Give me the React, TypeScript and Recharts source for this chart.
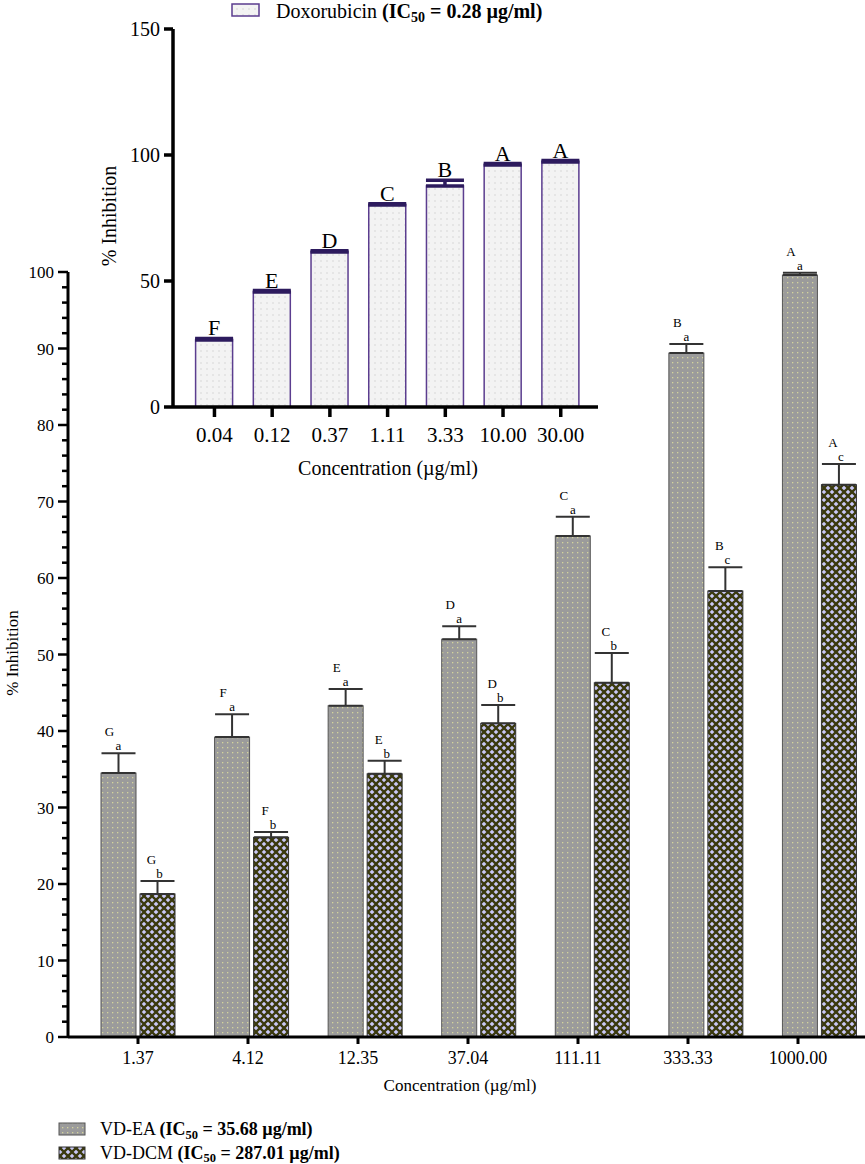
import React from 'react';
import { BarChart, Bar, XAxis, YAxis, ErrorBar } from 'recharts';

// main chart data (VD extracts)
const concentrations = ['1.37', '4.12', '12.35', '37.04', '111.11', '333.33', '1000.00'];
const eaValues = [34.5, 39.2, 43.3, 52.0, 65.5, 89.4, 99.6];
const eaErrors = [2.6, 3.0, 2.2, 1.7, 2.5, 1.2, 0.3];
const dcmValues = [18.7, 26.1, 34.4, 41.0, 46.3, 58.3, 72.2];
const dcmErrors = [1.7, 0.7, 1.7, 2.4, 3.9, 3.1, 2.7];
const eaCaps = ['G', 'F', 'E', 'D', 'C', 'B', 'A'];
const eaSubs = ['a', 'a', 'a', 'a', 'a', 'a', 'a'];
const dcmCaps = ['G', 'F', 'E', 'D', 'C', 'B', 'A'];
const dcmSubs = ['b', 'b', 'b', 'b', 'b', 'c', 'c'];
const mainTicks = Array.from({ length: 51 }, (_, i) => i * 2);

// inset data (doxorubicin)
const doxConc = ['0.04', '0.12', '0.37', '1.11', '3.33', '10.00', '30.00'];
const doxValues = [26.6, 45.6, 61.5, 80.2, 87.7, 96.0, 97.2];
const doxErrors = [0.6, 0.6, 0.5, 0.5, 2.3, 0.6, 0.6];
const doxLetters = ['F', 'E', 'D', 'C', 'B', 'A', 'A'];
const insetTicks = [0, 50, 100, 150];

const mainData = concentrations.map((c, i) => ({
  conc: c,
  ea: eaValues[i],
  eaErr: [0, eaErrors[i]],
  dcm: dcmValues[i],
  dcmErr: [0, dcmErrors[i]],
}));

const doxData = doxConc.map((c, i) => ({
  conc: c,
  dox: doxValues[i],
  doxErr: [0, doxErrors[i]],
}));

const FONT = '"Liberation Serif", serif';
const tf = { fontFamily: FONT };

const MainYTick = (props: any) => {
  const { x, y, payload } = props;
  const major = payload.value % 10 === 0;
  return (
    <g>
      <line x1={x - (major ? 10 : 6)} x2={x} y1={y} y2={y} stroke="#000" strokeWidth={2.5} />
      {major && (
        <text x={x - 14} y={y + 6} textAnchor="end" fontSize={17} style={tf} fill="#000">
          {payload.value}
        </text>
      )}
    </g>
  );
};

const MainXTick = (props: any) => {
  const { x, y, payload } = props;
  return (
    <text x={x} y={y + 20} textAnchor="middle" fontSize={18} style={tf} fill="#000">
      {payload.value}
    </text>
  );
};

const InsetYTick = (props: any) => {
  const { x, y, payload } = props;
  return (
    <g>
      <line x1={x - 9} x2={x} y1={y} y2={y} stroke="#000" strokeWidth={3.5} />
      <text x={x - 13} y={y + 7} textAnchor="end" fontSize={20} style={tf} fill="#000">
        {payload.value}
      </text>
    </g>
  );
};

const InsetXTick = (props: any) => {
  const { x, y, payload } = props;
  return (
    <text x={x} y={y + 25} textAnchor="middle" fontSize={21} style={tf} fill="#000">
      {payload.value}
    </text>
  );
};

// bar rect plus the significance letters sitting over the error cap
const makeBarShape = (
  values: number[],
  errors: number[],
  caps: string[],
  subs: string[] | null,
  capDx: number,
  subDx: number,
  big: boolean
) => (props: any) => {
  const { x, y, width, height, index, fill, stroke, strokeWidth } = props;
  const v = values[index];
  const errPx = v ? (errors[index] * height) / v : 0;
  const top = y - errPx;
  const cx = x + width / 2;
  return (
    <g>
      <rect x={x} y={y} width={width} height={height} fill={fill} stroke={stroke} strokeWidth={strokeWidth} />
      {big ? (
        <text x={cx} y={top - 3} textAnchor="middle" fontSize={22} style={tf} fill="#000">
          {caps[index]}
        </text>
      ) : (
        <g fontSize={13} fill="#000" textAnchor="middle">
          <text x={cx + capDx} y={top - 17} style={tf}>{caps[index]}</text>
          <text x={cx + subDx} y={top - 3} style={tf}>{subs ? subs[index] : ''}</text>
        </g>
      )}
    </g>
  );
};

const eaShape = makeBarShape(eaValues, eaErrors, eaCaps, eaSubs, -9, 0, false);
const dcmShape = makeBarShape(dcmValues, dcmErrors, dcmCaps, dcmSubs, -6, 2, false);
const doxShape = makeBarShape(doxValues, doxErrors, doxLetters, null, 0, 0, true);

const Patterns = () => (
  <svg width={0} height={0} style={{ position: 'absolute' }}>
    <defs>
      <pattern id="eaPat" width={5} height={5} patternUnits="userSpaceOnUse">
        <rect width={5} height={5} fill="#9b9b9b" />
        <rect x={2} y={2} width={1.3} height={1.3} fill="#d4d49c" />
      </pattern>
      <pattern id="dcmPat" width={8} height={8} patternUnits="userSpaceOnUse">
        <rect width={8} height={8} fill="#c9c8f6" />
        <line x1={0} y1={0} x2={8} y2={8} stroke="#3a390e" strokeWidth={2.3} />
        <line x1={8} y1={0} x2={0} y2={8} stroke="#3a390e" strokeWidth={2.3} />
      </pattern>
      <pattern id="doxPat" width={6} height={6} patternUnits="userSpaceOnUse">
        <rect width={6} height={6} fill="#f3f3f3" />
        <rect x={2.5} y={2.5} width={1} height={1} fill="#bcbcbc" />
      </pattern>
    </defs>
  </svg>
);

const Overlay = () => (
  <svg width={865} height={1164} style={{ position: 'absolute', left: 0, top: 0, pointerEvents: 'none' }}>
    {/* inset legend */}
    <rect x={232} y={4} width={27} height={12} fill="url(#doxPat)" stroke="#5b3d8f" strokeWidth={1.5} />
    <text x={276} y={18} fontSize={20} style={tf} fill="#000">
      Doxorubicin <tspan fontWeight="bold">(IC</tspan>
      <tspan fontWeight="bold" fontSize={14} dy={4}>50</tspan>
      <tspan fontWeight="bold" dy={-4}> = 0.28 µg/ml)</tspan>
    </text>
    {/* inset axis titles */}
    <text transform="translate(116,216) rotate(-90)" textAnchor="middle" fontSize={20} style={tf} fill="#000">
      % Inhibition
    </text>
    <text x={388} y={475} textAnchor="middle" fontSize={20} style={tf} fill="#000">
      Concentration (µg/ml)
    </text>
    {/* main axis titles */}
    <text transform="translate(18,653) rotate(-90)" textAnchor="middle" fontSize={17} style={tf} fill="#000">
      % Inhibition
    </text>
    <text x={460} y={1091} textAnchor="middle" fontSize={17} style={tf} fill="#000">
      Concentration (µg/ml)
    </text>
    {/* main legend */}
    <rect x={59} y={1123} width={26} height={12} fill="url(#eaPat)" stroke="#555" strokeWidth={1} />
    <text x={100} y={1135} fontSize={18} style={tf} fill="#000">
      VD-EA <tspan fontWeight="bold">(IC</tspan>
      <tspan fontWeight="bold" fontSize={12.5} dy={4}>50</tspan>
      <tspan fontWeight="bold" dy={-4}> = 35.68 µg/ml)</tspan>
    </text>
    <rect x={59} y={1147} width={26} height={12} fill="url(#dcmPat)" stroke="#333" strokeWidth={1} />
    <text x={100} y={1159} fontSize={18} style={tf} fill="#000">
      VD-DCM <tspan fontWeight="bold">(IC</tspan>
      <tspan fontWeight="bold" fontSize={12.5} dy={3}>50</tspan>
      <tspan fontWeight="bold" dy={-3}> = 287.01 µg/ml)</tspan>
    </text>
  </svg>
);

const App = () => {
  return (
    <div
      style={{
        position: 'absolute',
        left: 0,
        top: 0,
        width: 865,
        height: 1164,
        overflow: 'hidden',
        background: '#fff',
      }}
    >
      <Patterns />
      <div style={{ position: 'absolute', left: 0, top: 0 }}>
        <BarChart
          width={880}
          height={1164}
          data={mainData}
          margin={{ top: 272, right: 4, bottom: 0, left: 0 }}
          barGap={4}
          barSize={35}
        >
          {/* bars sit on this one; the printed labels below are spaced a bit tighter */}
          <XAxis xAxisId="bars" dataKey="conc" padding={{ left: 13, right: 0 }} height={0} hide />
          <XAxis
            xAxisId="lbl"
            dataKey="conc"
            padding={{ left: 15, right: 23 }}
            axisLine={{ stroke: '#000', strokeWidth: 3 }}
            tickLine={{ stroke: '#000', strokeWidth: 3 }}
            tickSize={7}
            tickMargin={0}
            tick={<MainXTick />}
            interval={0}
            height={127}
          />
          <YAxis
            width={68}
            domain={[0, 100]}
            ticks={mainTicks}
            interval={0}
            tickSize={0}
            tickMargin={0}
            tickLine={false}
            axisLine={{ stroke: '#000', strokeWidth: 3 }}
            tick={<MainYTick />}
          />
          <Bar xAxisId="bars" dataKey="ea" fill="url(#eaPat)" stroke="#555" strokeWidth={1} shape={eaShape} isAnimationActive={false}>
            <ErrorBar dataKey="eaErr" width={17} stroke="#333" strokeWidth={2} direction="y" />
          </Bar>
          <Bar xAxisId="bars" dataKey="dcm" fill="url(#dcmPat)" stroke="#333" strokeWidth={1} shape={dcmShape} isAnimationActive={false}>
            <ErrorBar dataKey="dcmErr" width={17} stroke="#333" strokeWidth={2} direction="y" />
          </Bar>
        </BarChart>
      </div>
      <div style={{ position: 'absolute', left: 0, top: 0 }}>
        <BarChart
          width={620}
          height={480}
          data={doxData}
          margin={{ top: 29, right: 22, bottom: 0, left: 0 }}
          barSize={37}
        >
          <XAxis
            dataKey="conc"
            padding={{ left: 12.6, right: 8.4 }}
            axisLine={{ stroke: '#000', strokeWidth: 3.5 }}
            tickLine={{ stroke: '#000', strokeWidth: 3.5 }}
            tickSize={10}
            tickMargin={0}
            tick={<InsetXTick />}
            interval={0}
            height={73}
          />
          <YAxis
            width={173}
            domain={[0, 150]}
            ticks={insetTicks}
            interval={0}
            tickSize={0}
            tickMargin={0}
            tickLine={false}
            axisLine={{ stroke: '#000', strokeWidth: 3.5 }}
            tick={<InsetYTick />}
          />
          <Bar dataKey="dox" fill="url(#doxPat)" stroke="#5b3d8f" strokeWidth={1.5} shape={doxShape} isAnimationActive={false}>
            <ErrorBar dataKey="doxErr" width={19} stroke="#2d1b5e" strokeWidth={3.5} direction="y" />
          </Bar>
        </BarChart>
      </div>
      <Overlay />
    </div>
  );
};

export default App;
